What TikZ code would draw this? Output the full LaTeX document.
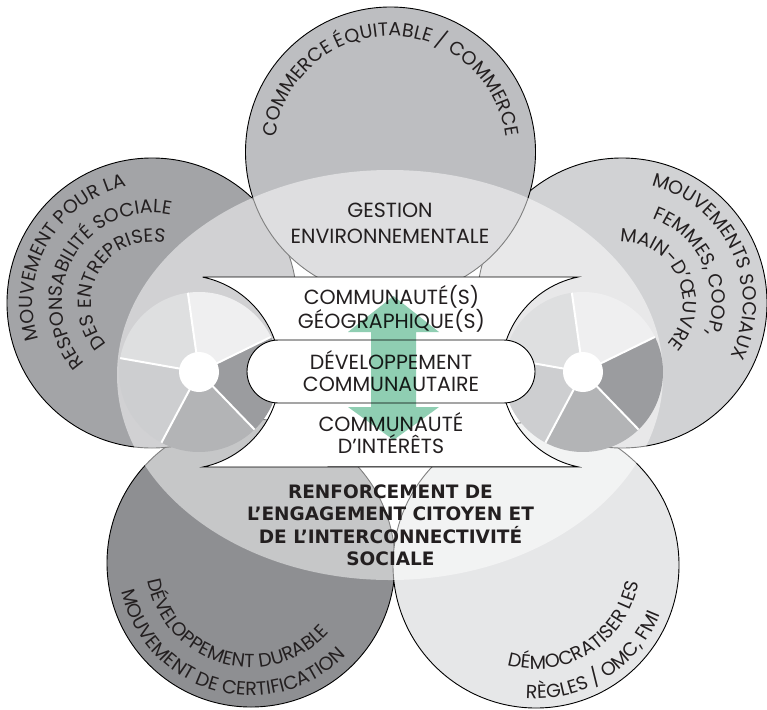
\documentclass[tikz,border=0pt]{standalone}
\usepackage{fontspec}
\setmainfont{Poppins}
\newfontfamily\heavyfont{DejaVu Sans}
\usepackage{tikz}
\usetikzlibrary{decorations.text}

\definecolor{ink}{HTML}{231F20}
\definecolor{greyTop}{HTML}{BDBEC1}
\definecolor{greyTL}{HTML}{A3A4A7}
\definecolor{greyTR}{HTML}{D1D2D4}
\definecolor{greyBL}{HTML}{8E8F92}
\definecolor{greyBR}{HTML}{E6E7E8}
\definecolor{pieA}{HTML}{EFEFF0}
\definecolor{pieB}{HTML}{DEDFE0}
\definecolor{pieC}{HTML}{CDCED0}
\definecolor{pieD}{HTML}{B3B4B6}
\definecolor{pieE}{HTML}{9B9C9F}
\definecolor{mint}{RGB}{143,206,178}

\newcommand\curvefont{\fontsize{19}{19}\selectfont}

\begin{document}
\begin{tikzpicture}[x=1pt, y=1pt,
  petal/.style = {draw=black, line width=0.9pt},
  wedge/.style = {draw=white, line width=2pt},
  plain/.style = {align=center, text=ink, inner sep=0pt, font=\fontsize{20.5}{22}\selectfont},
  heavy/.style = {align=center, text=ink, inner sep=0pt, font=\heavyfont\bfseries\fontsize{18.5}{22.5}\selectfont},
  pillbox/.style = {draw, line width=0.9pt, fill=white, rounded corners=31.5pt, minimum width=288pt, minimum height=63pt, inner sep=0pt, align=center, text=ink, font=\fontsize{20.5}{22}\selectfont},
  curve/.style = {decorate, decoration={text along path, text align=center, text={|\curvefont\color{ink}|#1}}}]
\useasboundingbox (0,0) rectangle (767,-709);

% centres of the five circles and of the two wheels
\coordinate (top) at (390.5,-152);
\coordinate (tl) at (152,-303);
\coordinate (tr) at (622,-303);
\coordinate (bl) at (251,-563);
\coordinate (br) at (536,-565);
\coordinate (lwheel) at (199,-372);
\coordinate (rwheel) at (583,-372);

% the five circles
\draw[petal, fill=greyBL] (bl) circle[radius=144];
\draw[petal, fill=greyBR] (br) circle[radius=143];
\draw[petal, fill=greyTL] (tl) circle[radius=145];
\draw[petal, fill=greyTR] (tr) circle[radius=145];
\draw[petal, fill=greyTop] (top) circle[radius=145];

% texts round the circles
\path[curve={COMMERCE ÉQUITABLE / COMMERCE}] ([shift={(180:116)}]top) arc[start angle=180, end angle=0, radius=116];
\path[curve={MOUVEMENT POUR LA}] ([shift={(240:119)}]tl) arc[start angle=240, end angle=60, radius=119];
\path[curve={RESPONSABILITÉ SOCIALE}] ([shift={(240:90)}]tl) arc[start angle=240, end angle=60, radius=90];
\path[curve={DES ENTREPRISES}] ([shift={(240:61)}]tl) arc[start angle=240, end angle=60, radius=61];
\path[curve={MOUVEMENTS SOCIAUX}] ([shift={(115:121)}]tr) arc[start angle=115, end angle=-65, radius=121];
\path[curve={FEMMES, COOP,}] ([shift={(115:90)}]tr) arc[start angle=115, end angle=-65, radius=90];
\path[curve={MAIN-D’ŒUVRE}] ([shift={(115:61)}]tr) arc[start angle=115, end angle=-65, radius=61];
\path[curve={MOUVEMENT DE CERTIFICATION}] ([shift={(164:132.5)}]bl) arc[start angle=164, end angle=344, radius=132.5];
\path[curve={DÉVELOPPEMENT DURABLE}] ([shift={(164:104.5)}]bl) arc[start angle=164, end angle=344, radius=104.5];
\path[curve={RÈGLES / OMC, FMI}] ([shift={(212:133.5)}]br) arc[start angle=212, end angle=392, radius=133.5];
\path[curve={DÉMOCRATISER LES}] ([shift={(212:104)}]br) arc[start angle=212, end angle=392, radius=104];

% the veil over the middle
\fill[white, fill opacity=0.5] (390,-375) ellipse[x radius=273, y radius=205];

% the two wheels
\foreach \w in {lwheel, rwheel} {
  \foreach \a/\c in {26/pieA, 98/pieB, 170/pieC, 242/pieD, 314/pieE}
    \fill[\c] (\w) -- ++(\a:80) arc[start angle=\a, end angle=\a+72, radius=80] -- cycle;
  \foreach \a in {26, 98, 170, 242, 314}
    \draw[wedge] (\w) -- ++(\a:80);
  \fill[white] (\w) circle[radius=20];
}

% white band with hollow sides
\draw[line width=0.9pt, fill=white] (203,-277) -- (578,-277)
  arc[start angle=101.9, end angle=258.1, radius=97] -- (203,-467)
  arc[start angle=-78.1, end angle=78.1, radius=97] -- cycle;

\node[plain] (gestion) at (390,-223) {GESTION\\[4pt]ENVIRONNEMENTALE};
\node[plain] (geo) at (391.5,-309) {COMMUNAUTÉ(S)\\GÉOGRAPHIQUE(S)};
\node[pillbox] (dev) at (391,-371.5) {DÉVELOPPEMENT\\COMMUNAUTAIRE};
\node[plain] (interets) at (391,-433) {COMMUNAUTÉ\\D’INTÉRÊTS};
\node[heavy] (renfort) at (390.5,-525.5) {RENFORCEMENT DE\\L’ENGAGEMENT CITOYEN ET\\DE L’INTERCONNECTIVITÉ\\SOCIALE};

% green double arrow
\fill[mint, blend mode=multiply] (393.5,-296) -- (439,-332) -- (416,-332) -- (416,-407)
  -- (439,-407) -- (393.5,-440) -- (348,-407) -- (371,-407) -- (371,-332) -- (348,-332) -- cycle;
\end{tikzpicture}
\end{document}
